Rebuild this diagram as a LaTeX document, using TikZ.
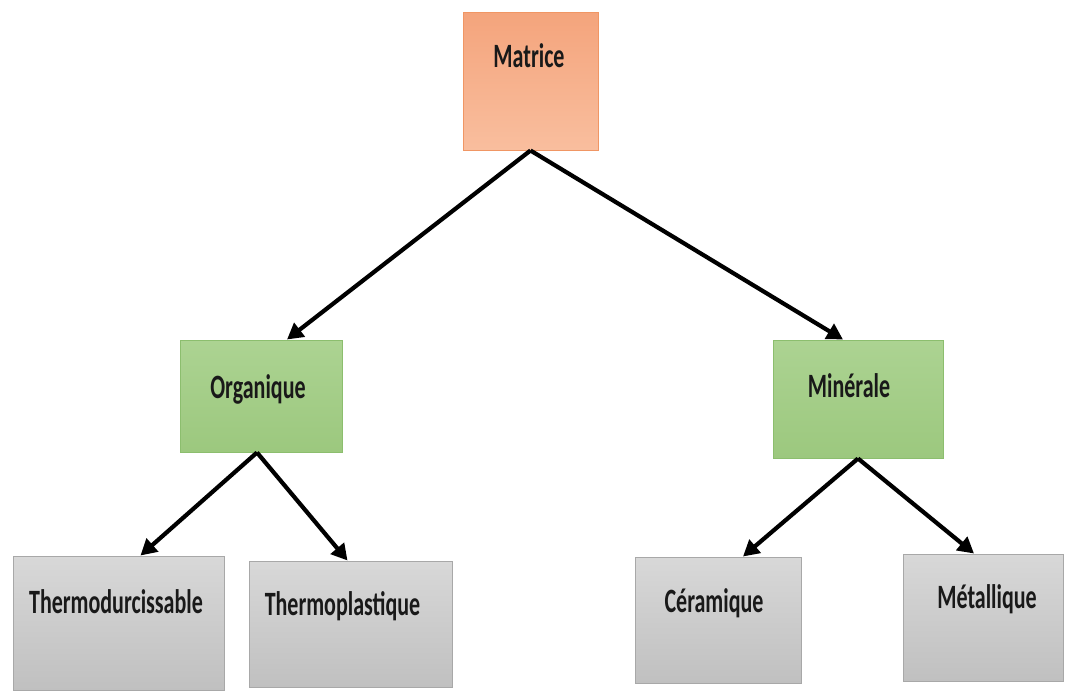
\documentclass[tikz,border=0pt]{standalone}
\usepackage{fontspec}
\setmainfont{Carlito}
\usepackage{tikz}
\usetikzlibrary{arrows.meta}
\definecolor{matfill}{RGB}{244,164,124}
\definecolor{matfillb}{RGB}{249,190,158}
\definecolor{matline}{RGB}{240,150,100}
\definecolor{grnfill}{RGB}{172,211,146}
\definecolor{grnfillb}{RGB}{156,200,126}
\definecolor{grnline}{RGB}{140,190,110}
\definecolor{gryfill}{RGB}{216,216,216}
\definecolor{gryfillb}{RGB}{192,192,192}
\definecolor{gryline}{RGB}{168,168,168}
\newcommand{\tall}[1]{\scalebox{1}[1.55]{#1}}
\tikzset{
  box/.style={rectangle, inner sep=0pt, line width=1pt},
  matbox/.style={box, draw=matline, top color=matfill, bottom color=matfillb},
  grnbox/.style={box, draw=grnline, top color=grnfill, bottom color=grnfillb},
  grybox/.style={box, draw=gryline, top color=gryfill, bottom color=gryfillb},
  lbl/.style={anchor=base, inner sep=0pt, text=black!90, font=\fontsize{22}{26}\selectfont\bfseries},
  arr/.style={line width=4.2pt, -{Triangle[length=16pt,width=17pt]}}
}
\begin{document}
\begin{tikzpicture}[x=1pt,y=-1pt]
	\useasboundingbox (0,0) rectangle (1065,691);
	
	\node[matbox, minimum width=135pt, minimum height=138pt] (mat) at (530.5,81) {};
	\node[grnbox, minimum width=162pt, minimum height=112pt] (org) at (261,396) {};
	\node[grnbox, minimum width=170pt, minimum height=118pt] (min) at (858,399) {};
	\node[grybox, minimum width=211pt, minimum height=134pt] (tdur) at (118.5,623) {};
	\node[grybox, minimum width=203pt, minimum height=126pt] (tpla) at (350.5,624) {};
	\node[grybox, minimum width=166pt, minimum height=126pt] (cer) at (718,620) {};
	\node[grybox, minimum width=160pt, minimum height=127pt] (met) at (983,617.5) {};
	
	\node[lbl] (matt) at (529,67) {\tall{Matrice}};
	\node[lbl] (orgt) at (258,398) {\tall{Organique}};
	\node[lbl] (mint) at (849,397) {\tall{Minérale}};
	\node[lbl] (tdurt) at (116,613) {\tall{Thermodurcissable}};
	\node[lbl] (tplat) at (342.5,615) {\tall{Thermoplastique}};
	\node[lbl] (cert) at (714,612) {\tall{Céramique}};
	\node[lbl] (mett) at (987,608) {\tall{Métallique}};
	
	\draw[arr] (mat.south) -- ([xshift=26pt]org.north);
	\draw[arr] (mat.south) -- ([xshift=-15pt]min.north);
	\draw[arr] ([xshift=-4pt]org.south) -- ([xshift=22pt]tdur.north);
	\draw[arr] ([xshift=-4pt]org.south) -- ([xshift=-3pt]tpla.north);
	\draw[arr] (min.south) -- ([xshift=25pt]cer.north);
	\draw[arr] (min.south) -- ([xshift=-9pt]met.north);
\end{tikzpicture}
\end{document}
